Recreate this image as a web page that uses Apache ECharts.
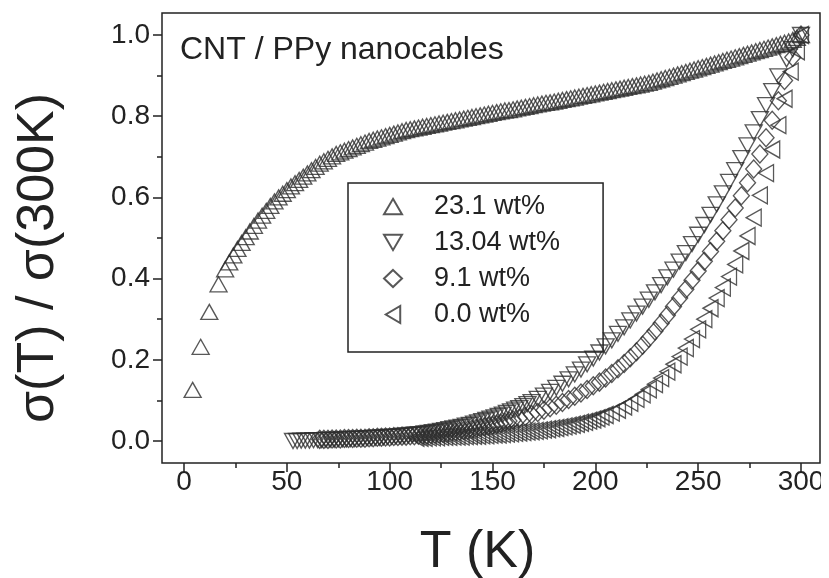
<!DOCTYPE html>
<html><head><meta charset="utf-8">
<script src="https://cdn.jsdelivr.net/npm/echarts@6/dist/echarts.min.js"></script>
<style>html,body{margin:0;padding:0;background:#fff;overflow:hidden}#wrap{width:821px;height:578px;overflow:hidden}#c{width:829px;height:578px}</style>
</head><body><div id="wrap"><div id="c"></div></div><script>
const xTicks = [0, 50, 100, 150, 200, 250, 300];
const yTicks = [0.0, 0.2, 0.4, 0.6, 0.8, 1.0];
const seriesNames = ['23.1 wt%', '13.04 wt%', '9.1 wt%', '0.0 wt%'];
const titleText = 'CNT / PPy nanocables';
const xName = 'T (K)';
const yName = 'σ(T) / σ(300K)';

const s231 = [[4.2,.126],[8.1,.232],[12.3,.318],[16.8,.386],
[20,.423],[22,.440],[24,.457],[26,.473],[28,.488],[30,.502],[32,.516],[34,.530],[36,.543],[38,.555],[40,.567],[42,.579],[44,.590],[46,.600],[48,.609],[50,.618],[52,.627],[54,.635],[56,.643],[58,.651],[60,.659],[62,.667],[64,.675],[66,.683],[68,.689],[70,.695],[72,.701],[74,.707],[76,.711],[78,.715],[80,.719],[82,.723],[84,.727],[86,.731],[88,.735],[90,.739],[92,.742],[94,.745],[96,.748],[98,.751],[100,.754],[102,.757],[104,.760],[106,.763],[108,.766],[110,.768],[112,.770],[114,.772],[116,.774],[118,.776],[120,.778],[122,.780],[124,.782],[126,.784],[128,.786],[130,.788],[132,.790],[134,.792],[136,.794],[138,.796],[140,.798],[142,.800],[144,.802],[146,.804],[148,.806],[150,.808],[152,.810],[154,.812],[156,.814],[158,.815],[160,.817],[162,.819],[164,.821],[166,.823],[168,.825],[170,.827],[172,.829],[174,.831],[176,.833],[178,.834],[180,.836],[182,.838],[184,.840],[186,.842],[188,.844],[190,.846],[192,.848],[194,.850],[196,.852],[198,.854],[200,.856],[202,.858],[204,.860],[206,.862],[208,.864],[210,.866],[212,.868],[214,.870],[216,.872],[218,.874],[220,.876],[222,.878],[224,.880],[226,.882],[228,.885],[230,.888],[232,.891],[234,.894],[236,.897],[238,.900],[240,.903],[242,.906],[244,.909],[246,.912],[248,.915],[250,.918],[252,.921],[254,.924],[256,.927],[258,.930],[260,.933],[262,.936],[264,.939],[266,.942],[268,.945],[270,.948],[272,.951],[274,.954],[276,.957],[278,.960],[280,.963],[282,.966],[284,.969],[286,.972],[288,.975],[290,.978],[292,.981],[294,.984],[296,.988],[298,.993],[300,1.0]];

const s1304 = [[53,0],[55,0],[57,.001],[59,.001],[61,.001],[63,.002],[65,.002],[67,.002],[69,.003],[71,.003],[73,.003],[75,.004],[77,.004],[79,.004],[81,.005],[83,.005],[85,.006],[87,.006],[89,.007],[91,.007],[93,.008],[95,.008],[97,.009],[99,.010],[101,.010],[103,.011],[105,.012],[107,.013],[109,.014],[111,.015],[113,.016],[115,.017],[117,.019],[119,.020],[121,.022],[123,.023],[125,.025],[127,.027],[129,.029],[131,.031],[133,.033],[135,.035],[137,.038],[139,.040],[141,.043],[143,.046],[145,.049],[147,.052],[149,.055],[151,.058],[153,.062],[155,.065],[157,.069],[159,.073],[161,.077],[163,.081],[165,.086],[167,.091],[169,.096],[172,.104],[175,.112],[178,.121],[181,.131],[184,.141],[187,.152],[190,.164],[193,.176],[196,.189],[199,.203],[202,.218],[205,.233],[208,.248],[211,.264],[214,.280],[217,.297],[220,.314],[223,.331],[226,.348],[229,.366],[232,.384],[235,.403],[238,.422],[241,.442],[244,.463],[247,.485],[250,.508],[253,.532],[256,.557],[259,.583],[262,.610],[265,.638],[268,.667],[271,.697],[274,.728],[277,.760],[280,.793],[283,.827],[286,.862],[289,.898],[293,.940],[296,.965],[300,1.0]];

const s91 = [[66,.004],[68,.004],[70,.004],[72,.005],[74,.005],[76,.005],[78,.006],[80,.006],[82,.006],[84,.007],[86,.007],[88,.007],[90,.008],[92,.008],[94,.009],[96,.009],[98,.010],[100,.010],[102,.011],[104,.011],[106,.012],[108,.012],[110,.013],[112,.013],[114,.014],[116,.015],[118,.015],[120,.016],[122,.017],[124,.018],[126,.019],[128,.020],[130,.022],[132,.023],[134,.024],[136,.026],[138,.027],[140,.029],[142,.031],[144,.033],[146,.035],[148,.037],[150,.039],[152,.041],[154,.044],[156,.046],[158,.049],[160,.052],[163,.056],[166,.060],[169,.065],[172,.070],[175,.076],[178,.082],[181,.088],[184,.095],[187,.102],[190,.110],[193,.118],[196,.127],[199,.136],[202,.145],[205,.155],[208,.166],[211,.178],[214,.191],[217,.205],[220,.220],[223,.236],[226,.253],[229,.271],[232,.290],[235,.310],[238,.331],[241,.352],[244,.374],[247,.396],[250,.419],[253,.443],[256,.467],[259,.492],[262,.518],[265,.545],[268,.574],[271,.604],[274,.636],[277,.670],[280,.707],[283,.747],[286,.790],[289,.838],[292,.888],[296,.945],[300,1.0]];

const s00 = [[113,.008],[115,.008],[117,.008],[119,.009],[121,.009],[123,.009],[125,.010],[127,.010],[129,.010],[131,.011],[133,.011],[135,.011],[137,.012],[139,.012],[141,.013],[143,.013],[145,.014],[147,.014],[149,.015],[151,.016],[153,.016],[155,.017],[157,.018],[159,.019],[161,.020],[163,.021],[165,.022],[167,.023],[169,.024],[171,.025],[173,.026],[175,.028],[177,.029],[179,.031],[181,.032],[183,.034],[185,.036],[187,.038],[189,.040],[191,.042],[193,.045],[195,.047],[197,.050],[199,.053],[201,.056],[203,.060],[205,.064],[208,.070],[211,.077],[214,.085],[217,.094],[220,.104],[223,.115],[226,.127],[229,.140],[232,.155],[235,.171],[238,.189],[241,.208],[244,.229],[247,.251],[250,.275],[253,.300],[256,.327],[259,.352],[262,.378],[265,.405],[268,.435],[271,.468],[274,.505],[277,.550],[280,.605],[283,.660],[286,.718],[289,.778],[292,.843],[295,.910],[298,.960],[300,1.0]];

const FONT = '"Liberation Sans", Arial, Helvetica, sans-serif';
const INK = '#222';
const MARK = '#2e2e2e';

// layout (pixels)
const X0 = 184, X300 = 801, Y1 = 35, Y0 = 441;
const BOX = {left: 162, right: 820, top: 13, bottom: 463};
const W = 829, H = 578;

const ICON_UP = 'path://M10,0L20,17L0,17Z';
const ICON_DOWN = 'path://M0,0L20,0L10,17Z';
const ICON_LEFT = 'path://M17,0L17,20L0,10Z';

const chart = echarts.init(document.getElementById('c'), null, {renderer: 'canvas'});

function sc(name, data, symbol, rot, size) {
  return {
    type: 'scatter', name, data, xAxisIndex: 0, yAxisIndex: 0,
    symbol, symbolRotate: rot, symbolSize: size, clip: false,
    itemStyle: {color: 'rgba(0,0,0,0)', borderColor: MARK, borderWidth: 1.35},
    emphasis: {disabled: true}, animation: false
  };
}

const tickStyle = {color: INK, width: 1.5};
const hiddenAxis = (gi, mn, mx) => ({type: 'value', gridIndex: gi, show: false, min: mn, max: mx});
const G = o => Object.assign({containLabel: false, outerBoundsMode: 'none'}, o);

const option = {
  animation: false,
  backgroundColor: '#fff',
  title: {
    text: titleText, left: 180, top: 34, padding: 0,
    textStyle: {fontFamily: FONT, fontSize: 32, fontWeight: 'normal', color: INK}
  },
  legend: {
    orient: 'vertical', left: 348, top: 183, padding: [10, 43, 24, 35],
    itemWidth: 18, itemHeight: 17, itemGap: 9,
    borderColor: INK, borderWidth: 1.5,
    textStyle: {fontFamily: FONT, fontSize: 27, color: INK, padding: [0, 0, 0, 27], lineHeight: 27},
    data: [
      {name: seriesNames[0], icon: ICON_UP},
      {name: seriesNames[1], icon: ICON_DOWN},
      {name: seriesNames[2], icon: 'diamond'},
      {name: seriesNames[3], icon: ICON_LEFT}
    ]
  },
  grid: [
    G({left: X0, right: W - X300, top: Y1, bottom: H - Y0}),
    G({left: BOX.left, right: W - BOX.right, top: BOX.top, bottom: H - BOX.bottom, show: true,
       borderColor: INK, borderWidth: 1.5, backgroundColor: 'transparent'}),
    G({left: BOX.left, right: W - BOX.right, top: Y1, bottom: H - Y0}),
    G({left: X0, right: W - X300, top: BOX.top, bottom: H - BOX.bottom})
  ],
  xAxis: [
    hiddenAxis(0, xTicks[0], xTicks[xTicks.length - 1]),
    hiddenAxis(1, 0, 1),
    hiddenAxis(2, 0, 1),
    {type: 'value', gridIndex: 3, min: xTicks[0], max: xTicks[xTicks.length - 1],
     interval: xTicks[1] - xTicks[0], position: 'bottom',
     axisLine: {show: false}, splitLine: {show: false},
     axisTick: {show: true, inside: false, length: 9, lineStyle: tickStyle},
     minorTick: {show: true, splitNumber: 2, length: 5, lineStyle: tickStyle},
     axisLabel: {fontFamily: FONT, fontSize: 28, color: INK, margin: 5},
     name: xName, nameLocation: 'middle', nameGap: 64,
     nameTextStyle: {fontFamily: FONT, fontSize: 52, color: INK, padding: [0, 30, 0, 0]}}
  ],
  yAxis: [
    hiddenAxis(0, yTicks[0], yTicks[yTicks.length - 1]),
    hiddenAxis(1, 0, 1),
    {type: 'value', gridIndex: 2, min: yTicks[0], max: yTicks[yTicks.length - 1],
     interval: yTicks[1] - yTicks[0], position: 'left',
     axisLine: {show: false}, splitLine: {show: false},
     axisTick: {show: true, inside: false, length: 9, lineStyle: tickStyle},
     minorTick: {show: true, splitNumber: 2, length: 5, lineStyle: tickStyle},
     axisLabel: {fontFamily: FONT, fontSize: 28, color: INK, margin: 12,
                 formatter: v => v.toFixed(1)},
     name: yName, nameLocation: 'middle', nameRotate: 90, nameGap: 97,
     nameTextStyle: {fontFamily: FONT, fontSize: 52, color: INK, padding: [0, 40, 0, 0]}},
    hiddenAxis(3, 0, 1)
  ],
  series: [
    sc(seriesNames[0], s231, 'triangle', 0, [17, 15]),
    sc(seriesNames[1], s1304, 'triangle', 180, [17, 15]),
    sc(seriesNames[2], s91, 'diamond', 0, [16, 18]),
    sc(seriesNames[3], s00, 'triangle', 90, [17, 15])
  ]
};
chart.setOption(option);
</script></body></html>
